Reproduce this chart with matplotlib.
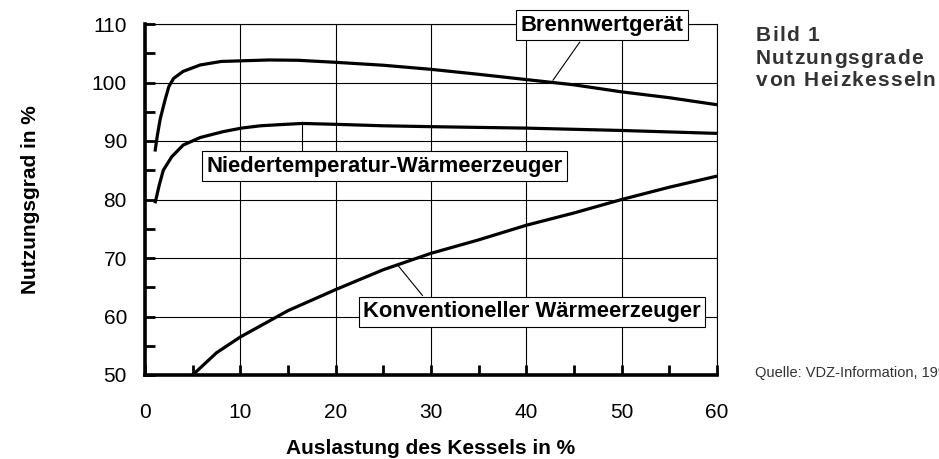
import matplotlib
matplotlib.use("Agg")
import matplotlib.pyplot as plt
from matplotlib.ticker import MultipleLocator

plt.rcParams["font.family"] = ["Liberation Sans", "DejaVu Sans"]

# ============================================================
# Data (Auslastung in %, Nutzungsgrad in %)
# ============================================================

BRENN_X = [1.05, 1.3, 1.6, 2.1, 2.5, 3.0, 4.0, 5.8, 8.0, 10.0, 13.0, 16.0,
           20.0, 25.0, 30.0, 35.0, 40.0, 45.0, 50.0, 55.0, 60.0]
BRENN_Y = [88.2, 91.0, 93.8, 97.0, 99.3, 100.7, 101.9, 103.0, 103.6, 103.7,
           103.85, 103.8, 103.45, 102.95, 102.25, 101.4, 100.5, 99.6, 98.4,
           97.4, 96.2]

NIEDER_X = [1.05, 1.5, 1.92, 2.8, 4.0, 5.8, 8.2, 10.1, 12.1, 14.2, 16.5,
            20.0, 25.0, 30.0, 40.0, 50.0, 60.0]
NIEDER_Y = [79.35, 82.5, 85.0, 87.3, 89.3, 90.6, 91.6, 92.2, 92.6, 92.8, 93.0,
            92.85, 92.6, 92.45, 92.2, 91.8, 91.3]

KONV_X = [5.0, 7.5, 10.0, 15.0, 20.0, 25.0, 30.0, 35.0, 40.0, 45.0, 50.0, 55.0, 60.0]
KONV_Y = [50.0, 53.8, 56.5, 61.0, 64.6, 68.0, 70.8, 73.1, 75.6, 77.7, 80.0, 82.1, 84.0]

X_TICKS = [0, 10, 20, 30, 40, 50, 60]
Y_TICKS = [50, 60, 70, 80, 90, 100, 110]

# label text, box centre, connector start (at box), connector end (on curve)
LABELS = [
    ("Brennwertgerät", (47.9, 109.8), (45.6, 106.9), (42.8, 100.4)),
    ("Niedertemperatur-Wärmeerzeuger", (25.1, 85.7), (16.5, 87.0), (16.5, 92.9)),
    ("Konventioneller Wärmeerzeuger", (40.6, 60.8), (29.1, 63.6), (26.5, 68.8)),
]

TITLE_LINES = ["Bild 1", "Nutzungsgrade", "von Heizkesseln"]
SOURCE_TEXT = "Quelle: VDZ-Information, 1996"

W, H = 939, 459


def tracked_text(fig, x_px, y_px, s, spacing_px, **kw):
    """Draw a string char by char with extra letter spacing (pixel coords from top-left)."""
    renderer = fig.canvas.get_renderer()
    probe = fig.text(0, 0, "|", **kw)
    bar_w = probe.get_window_extent(renderer).width
    probe.remove()
    for i, ch in enumerate(s):
        if ch == " ":
            continue
        offset = 0.0
        if i:
            prefix = fig.text(0, 0, s[:i] + "|", **kw)
            offset = prefix.get_window_extent(renderer).width - bar_w
            prefix.remove()
        fig.text((x_px + offset + i * spacing_px) / W, 1 - y_px / H, ch,
                 ha="left", va="baseline", **kw)


def main():
    fig = plt.figure(figsize=(W / 100, H / 100), dpi=100)
    ax = fig.add_axes([145 / W, 1 - 375 / H, 572 / W, 351 / H])

    for xs, ys in [(BRENN_X, BRENN_Y), (NIEDER_X, NIEDER_Y), (KONV_X, KONV_Y)]:
        ax.plot(xs, ys, color="black", linewidth=2.3, zorder=3,
                solid_capstyle="butt", clip_on=False)

    ax.set_xlim(0, 60)
    ax.set_ylim(50, 110)
    ax.set_xticks(X_TICKS)
    ax.set_yticks(Y_TICKS)
    ax.xaxis.set_minor_locator(MultipleLocator(5))
    ax.yaxis.set_minor_locator(MultipleLocator(5))

    ax.grid(True, which="major", color="black", linewidth=0.8)
    ax.set_axisbelow(True)

    for side in ["top", "right"]:
        ax.spines[side].set_linewidth(0.8)
    for side in ["left", "bottom"]:
        ax.spines[side].set_linewidth(2.6)

    ax.tick_params(which="both", direction="in", length=7, width=2.0,
                   top=False, right=False, labelsize=15)
    ax.tick_params(axis="y", pad=13)
    ax.tick_params(axis="x", pad=20)

    fig.text(431 / W, 1 - 454 / H, "Auslastung des Kessels in %",
             ha="center", va="baseline", fontsize=15, fontweight="bold")
    fig.text(36 / W, 1 - 200 / H, "Nutzungsgrad in %",
             ha="center", va="baseline", rotation=90, rotation_mode="anchor",
             fontsize=15, fontweight="bold")

    for text, box_xy, start_xy, end_xy in LABELS:
        ax.plot([start_xy[0], end_xy[0]], [start_xy[1], end_xy[1]],
                color="black", linewidth=0.8, zorder=4, clip_on=False)
        ax.text(box_xy[0], box_xy[1], text, ha="center", va="center",
                fontsize=15.8, fontweight="bold", zorder=5, clip_on=False,
                bbox=dict(boxstyle="square,pad=0.2", facecolor="white",
                          edgecolor="black", linewidth=0.8))

    title_kw = dict(fontsize=15, fontweight="bold", color="#333333")
    for line, base_y in zip(TITLE_LINES, [41, 64, 86]):
        tracked_text(fig, 756, base_y, line, 1.2, **title_kw)

    fig.text(755 / W, 1 - 377 / H, SOURCE_TEXT,
             ha="left", va="baseline", fontsize=10.5, color="#333333")

    fig.savefig("out.png", dpi=100)


if __name__ == "__main__":
    main()
